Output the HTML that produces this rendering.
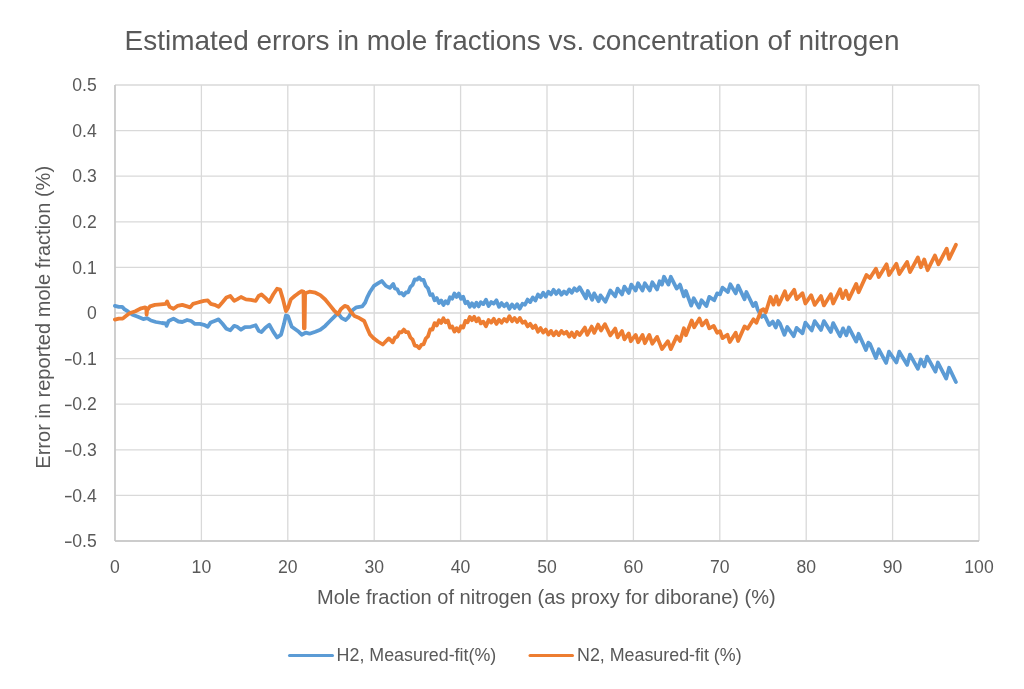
<!DOCTYPE html>
<html><head><meta charset="utf-8">
<style>
html,body{margin:0;padding:0;background:#fff;}
body{width:1024px;height:689px;overflow:hidden;}
svg{display:block;font-family:"Liberation Sans",sans-serif;filter:blur(0.45px);}
</style></head><body>
<svg width="1024" height="689" viewBox="0 0 1024 689">
<rect width="1024" height="689" fill="#fff"/>
<g stroke="#d9d9d9" stroke-width="1.3" fill="none">
<line x1="115.0" y1="85" x2="115.0" y2="541"/><line x1="201.4" y1="85" x2="201.4" y2="541"/><line x1="287.8" y1="85" x2="287.8" y2="541"/><line x1="374.2" y1="85" x2="374.2" y2="541"/><line x1="460.6" y1="85" x2="460.6" y2="541"/><line x1="547.0" y1="85" x2="547.0" y2="541"/><line x1="633.4" y1="85" x2="633.4" y2="541"/><line x1="719.8" y1="85" x2="719.8" y2="541"/><line x1="806.2" y1="85" x2="806.2" y2="541"/><line x1="892.6" y1="85" x2="892.6" y2="541"/><line x1="979.0" y1="85" x2="979.0" y2="541"/><line x1="115" y1="85.0" x2="979" y2="85.0"/><line x1="115" y1="130.6" x2="979" y2="130.6"/><line x1="115" y1="176.2" x2="979" y2="176.2"/><line x1="115" y1="221.8" x2="979" y2="221.8"/><line x1="115" y1="267.4" x2="979" y2="267.4"/><line x1="115" y1="313.0" x2="979" y2="313.0"/><line x1="115" y1="358.6" x2="979" y2="358.6"/><line x1="115" y1="404.2" x2="979" y2="404.2"/><line x1="115" y1="449.8" x2="979" y2="449.8"/><line x1="115" y1="495.4" x2="979" y2="495.4"/><line x1="115" y1="541.0" x2="979" y2="541.0"/>
</g>
<g stroke="#c4c4c4" stroke-width="1.4">
<line x1="115" y1="85" x2="115" y2="541"/>
<line x1="115" y1="541" x2="979" y2="541"/>
</g>
<text x="512" y="50" text-anchor="middle" font-size="27.95" fill="#595959">Estimated errors in mole fractions vs. concentration of nitrogen</text>
<g font-size="17.6" fill="#595959">
<text x="96.8" y="91.2" text-anchor="end">0.5</text><text x="96.8" y="136.8" text-anchor="end">0.4</text><text x="96.8" y="182.4" text-anchor="end">0.3</text><text x="96.8" y="228.0" text-anchor="end">0.2</text><text x="96.8" y="273.6" text-anchor="end">0.1</text><text x="96.8" y="319.2" text-anchor="end">0</text><text x="96.8" y="364.8" text-anchor="end">0.1</text><rect x="65" y="359.05" width="6.6" height="1.5" fill="#595959"/><text x="96.8" y="410.4" text-anchor="end">0.2</text><rect x="65" y="404.65" width="6.6" height="1.5" fill="#595959"/><text x="96.8" y="456.0" text-anchor="end">0.3</text><rect x="65" y="450.25" width="6.6" height="1.5" fill="#595959"/><text x="96.8" y="501.6" text-anchor="end">0.4</text><rect x="65" y="495.85" width="6.6" height="1.5" fill="#595959"/><text x="96.8" y="547.2" text-anchor="end">0.5</text><rect x="65" y="541.45" width="6.6" height="1.5" fill="#595959"/>
<text x="115.0" y="572.5" text-anchor="middle">0</text><text x="201.4" y="572.5" text-anchor="middle">10</text><text x="287.8" y="572.5" text-anchor="middle">20</text><text x="374.2" y="572.5" text-anchor="middle">30</text><text x="460.6" y="572.5" text-anchor="middle">40</text><text x="547.0" y="572.5" text-anchor="middle">50</text><text x="633.4" y="572.5" text-anchor="middle">60</text><text x="719.8" y="572.5" text-anchor="middle">70</text><text x="806.2" y="572.5" text-anchor="middle">80</text><text x="892.6" y="572.5" text-anchor="middle">90</text><text x="979.0" y="572.5" text-anchor="middle">100</text>
</g>
<text x="546.4" y="604.4" text-anchor="middle" font-size="20.04" fill="#595959">Mole fraction of nitrogen (as proxy for diborane) (%)</text>
<text transform="translate(50 317.3) rotate(-90)" x="0" y="0" text-anchor="middle" font-size="20.05" fill="#595959">Error in reported mole fraction (%)</text>
<g fill="none" stroke-width="3.8" stroke-linejoin="round" stroke-linecap="round">
<path d="M114.9 305.9 L118.8 306.9 L122.2 306.9 L124.6 309.3 L127.6 311.2 L132.5 314.7 L137.3 316.6 L143.2 319.1 L147.1 318.1 L151.0 320.5 L155.9 322.0 L161.8 323.0 L165.7 323.5 L166.6 325.9 L168.6 321.0 L173.5 318.6 L178.4 321.5 L182.3 322.0 L187.1 320.0 L191.1 321.0 L195.0 323.9 L200.0 323.8 L203.9 324.8 L207.8 326.8 L210.7 322.4 L214.6 320.9 L218.6 319.4 L222.5 323.8 L226.4 328.7 L230.3 330.2 L234.2 325.8 L237.1 326.8 L241.0 329.7 L244.9 327.2 L250.8 326.8 L255.7 325.3 L258.6 330.7 L261.5 332.1 L265.4 327.7 L269.3 324.8 L273.2 331.6 L277.1 337.5 L281.1 334.6 L284.0 323.8 L285.9 315.5 L287.9 316.0 L291.8 326.8 L298.8 331.8 L301.7 334.7 L305.6 332.7 L309.5 333.7 L315.4 331.8 L320.3 329.8 L325.2 325.9 L330.0 321.0 L333.9 317.1 L337.9 313.2 L341.8 318.1 L345.7 320.0 L348.6 317.1 L352.5 310.3 L356.4 307.3 L362.3 306.4 L365.2 302.5 L367.1 297.6 L370.1 291.7 L374.0 285.9 L377.9 283.4 L381.8 281.0 L385.9 285.9 L389.8 287.9 L393.2 284.0 L395.0 288.5 L397.2 289.2 L399.4 293.5 L401.6 293.0 L403.8 295.4 L406.0 292.5 L408.2 292.3 L410.4 286.9 L412.6 284.9 L414.8 279.3 L417.0 279.6 L419.2 277.4 L421.4 279.9 L423.6 280.0 L425.8 286.0 L428.0 288.3 L430.2 295.0 L432.4 294.3 L434.6 300.3 L436.8 298.1 L439.0 303.1 L441.2 300.4 L443.4 305.0 L445.6 301.2 L447.8 303.5 L450.0 297.2 L452.2 298.7 L454.4 293.5 L456.6 296.9 L458.8 293.6 L461.0 298.7 L463.2 296.8 L465.4 303.2 L467.6 301.7 L469.8 306.8 L472.0 303.3 L474.2 306.8 L476.4 302.7 L478.6 306.4 L480.8 302.2 L483.4 304.1 L486.0 299.7 L488.6 306.0 L491.2 302.1 L493.8 303.7 L496.4 300.3 L499.0 306.8 L501.6 303.1 L504.2 306.2 L506.8 303.6 L509.4 308.9 L512.0 304.5 L514.6 307.9 L517.2 304.2 L519.8 308.7 L522.4 303.8 L525.0 304.7 L527.6 299.6 L530.2 302.1 L532.8 297.4 L535.4 300.5 L538.0 294.5 L540.6 297.2 L543.2 292.7 L545.8 296.6 L548.4 291.7 L551.0 294.4 L553.6 289.8 L556.2 293.9 L558.8 290.3 L561.4 294.7 L564.0 291.5 L566.6 293.9 L569.2 289.5 L571.8 292.7 L574.4 288.3 L577.0 290.8 L579.6 287.2 L585.9 298.3 L587.8 291.0 L592.2 299.8 L594.2 293.4 L598.6 301.2 L600.5 295.4 L605.4 301.7 L610.3 290.5 L615.2 296.4 L617.6 288.6 L622.0 294.4 L624.4 286.6 L628.8 292.9 L631.3 284.6 L635.7 290.5 L638.1 283.2 L642.5 290.5 L644.9 283.2 L649.8 290.5 L652.3 282.2 L657.1 289.5 L659.6 281.2 L662.0 284.6 L664.0 276.8 L668.4 284.6 L670.8 276.8 L676.7 288.6 L680.0 284.6 L683.9 296.4 L685.9 291.0 L691.2 305.6 L693.7 298.3 L699.0 307.6 L701.5 300.3 L706.4 306.1 L709.3 296.9 L714.2 300.3 L717.1 293.4 L720.0 294.4 L722.5 287.6 L727.9 292.0 L730.3 284.2 L735.7 293.4 L738.1 285.6 L744.5 299.3 L746.4 292.0 L753.2 306.1 L755.7 302.7 L757.6 309.3 L761.7 316.9 L764.6 315.2 L769.3 325.1 L772.8 321.6 L775.7 327.5 L778.1 321.0 L780.0 323.6 L784.4 334.8 L787.3 327.0 L793.7 336.2 L796.6 327.9 L802.5 333.3 L805.4 322.6 L811.7 330.4 L814.7 321.1 L821.0 329.9 L823.9 321.1 L830.8 331.9 L833.2 323.1 L840.1 336.2 L843.0 328.4 L846.4 335.3 L848.8 327.5 L856.2 341.6 L858.6 333.8 L865.9 349.9 L868.4 342.6 L870.0 343.9 L875.9 358.1 L878.8 349.3 L886.1 362.9 L889.0 351.7 L896.4 362.5 L899.3 351.7 L907.1 364.9 L910.0 354.6 L917.9 368.8 L920.8 359.5 L924.2 366.4 L927.1 356.6 L935.4 371.7 L937.9 362.5 L946.2 378.6 L949.1 367.8 L955.9 382.0" stroke="#5b9bd5"/>
<path d="M114.9 319.6 L118.8 318.6 L122.7 318.6 L125.6 316.2 L129.5 313.2 L135.4 311.3 L141.2 308.3 L145.2 307.4 L146.3 307.9 L146.6 314.7 L147.1 310.3 L150.0 306.4 L154.9 304.9 L160.8 304.4 L165.7 303.9 L167.1 301.5 L169.6 306.9 L173.5 308.8 L177.4 305.9 L182.3 304.9 L187.1 306.4 L190.1 307.4 L193.0 303.9 L197.9 302.5 L200.0 301.9 L203.9 300.9 L207.8 300.4 L210.7 303.8 L214.6 304.8 L218.6 306.7 L222.5 302.3 L226.4 297.5 L230.3 296.0 L234.2 300.9 L237.1 299.4 L241.0 297.0 L245.9 299.4 L250.8 299.9 L255.7 300.9 L258.6 296.0 L261.5 294.5 L265.4 297.9 L269.3 301.9 L273.2 294.5 L277.1 288.7 L280.1 289.6 L283.0 299.4 L285.9 311.1 L287.9 308.2 L290.8 299.4 L294.7 296.0 L297.8 293.7 L301.7 291.2 L303.5 291.5 L303.9 328.3 L304.6 328.3 L305.1 293.2 L309.5 291.7 L315.4 292.7 L320.3 295.1 L325.2 299.5 L330.0 305.4 L333.9 310.3 L337.9 314.2 L340.8 309.3 L344.7 305.9 L347.6 306.9 L350.5 311.2 L354.5 316.1 L359.3 318.1 L364.2 321.0 L367.1 327.9 L370.1 334.7 L374.0 338.6 L377.9 341.5 L382.8 344.5 L385.9 341.3 L388.8 338.4 L392.7 342.3 L395.0 337.6 L397.2 336.8 L399.4 332.2 L401.6 332.3 L403.8 329.6 L406.0 332.2 L408.2 332.2 L410.4 337.5 L412.6 339.7 L414.8 345.7 L417.0 346.0 L419.2 348.2 L421.4 344.9 L423.6 344.2 L425.8 338.5 L428.0 336.4 L430.2 329.5 L432.4 329.6 L434.6 323.1 L436.8 325.4 L439.0 320.3 L441.2 322.9 L443.4 318.3 L445.6 322.3 L447.8 320.4 L450.0 327.6 L452.2 326.5 L454.4 331.6 L456.6 328.2 L458.8 331.5 L461.0 326.2 L463.2 327.6 L465.4 320.9 L467.6 322.3 L469.8 316.9 L472.0 320.2 L474.2 316.8 L476.4 321.3 L478.6 318.3 L480.8 323.4 L483.4 321.7 L486.0 326.3 L488.6 320.0 L491.2 322.6 L493.8 318.8 L496.4 323.9 L499.0 319.7 L501.6 322.7 L504.2 319.0 L506.8 321.4 L509.4 316.2 L512.0 321.2 L514.6 318.0 L517.2 322.0 L519.8 317.9 L522.4 322.7 L525.0 321.5 L527.6 326.4 L530.2 323.8 L532.8 328.0 L535.4 325.6 L538.0 331.7 L540.6 328.1 L543.2 332.6 L545.8 329.6 L548.4 334.6 L551.0 330.9 L553.6 335.3 L556.2 331.6 L558.8 335.1 L561.4 330.9 L564.0 333.8 L566.6 331.8 L569.2 336.6 L571.8 332.6 L574.4 337.0 L577.0 331.9 L579.6 335.1 L584.9 327.6 L587.3 334.9 L591.7 326.6 L594.2 332.9 L598.1 324.6 L601.0 330.5 L604.9 324.2 L610.3 335.4 L615.2 328.6 L617.6 337.3 L622.0 331.0 L624.4 339.3 L628.8 333.4 L630.8 341.2 L635.7 334.9 L638.1 342.2 L642.5 334.9 L644.9 343.2 L649.3 334.9 L652.3 343.7 L657.1 336.9 L662.0 349.1 L667.9 341.2 L670.8 349.1 L676.7 336.4 L680.0 341.0 L683.9 328.3 L685.9 335.2 L691.7 320.5 L694.2 327.3 L699.5 318.6 L702.0 325.4 L706.4 320.5 L709.3 328.3 L713.7 325.9 L717.1 332.7 L720.0 331.2 L722.5 338.1 L727.4 334.7 L729.8 342.0 L735.7 332.7 L738.1 341.0 L744.5 326.4 L747.6 328.7 L753.5 319.3 L756.4 322.8 L761.1 310.5 L763.4 309.3 L765.8 312.3 L770.5 297.0 L773.4 304.6 L776.3 296.4 L778.7 304.6 L780.0 302.0 L784.9 291.2 L787.3 299.6 L794.2 289.8 L796.6 299.1 L802.5 293.2 L805.4 303.5 L811.2 295.2 L814.7 304.9 L821.0 296.1 L823.9 305.4 L830.8 294.2 L833.2 303.5 L840.1 289.3 L842.5 298.1 L845.9 290.8 L848.8 299.1 L856.2 283.9 L858.6 292.2 L866.4 275.1 L870.0 278.0 L875.9 268.7 L878.8 277.0 L886.6 264.3 L889.0 275.0 L896.4 263.8 L899.3 274.1 L907.1 261.9 L910.0 272.1 L917.9 257.5 L920.8 267.2 L924.2 259.4 L927.6 270.2 L934.9 255.5 L938.4 264.3 L946.7 248.7 L949.1 258.9 L955.9 244.8" stroke="#ed7d31"/>
</g>
<g stroke-width="3" stroke-linecap="round">
<line x1="289.5" y1="655.6" x2="332.5" y2="655.6" stroke="#5b9bd5"/>
<line x1="530" y1="655.6" x2="572.5" y2="655.6" stroke="#ed7d31"/>
</g>
<g font-size="17.85" fill="#595959">
<text x="336.6" y="661">H2, Measured-fit(%)</text>
<text x="577" y="661">N2, Measured-fit (%)</text>
</g>
</svg>
</body></html>
